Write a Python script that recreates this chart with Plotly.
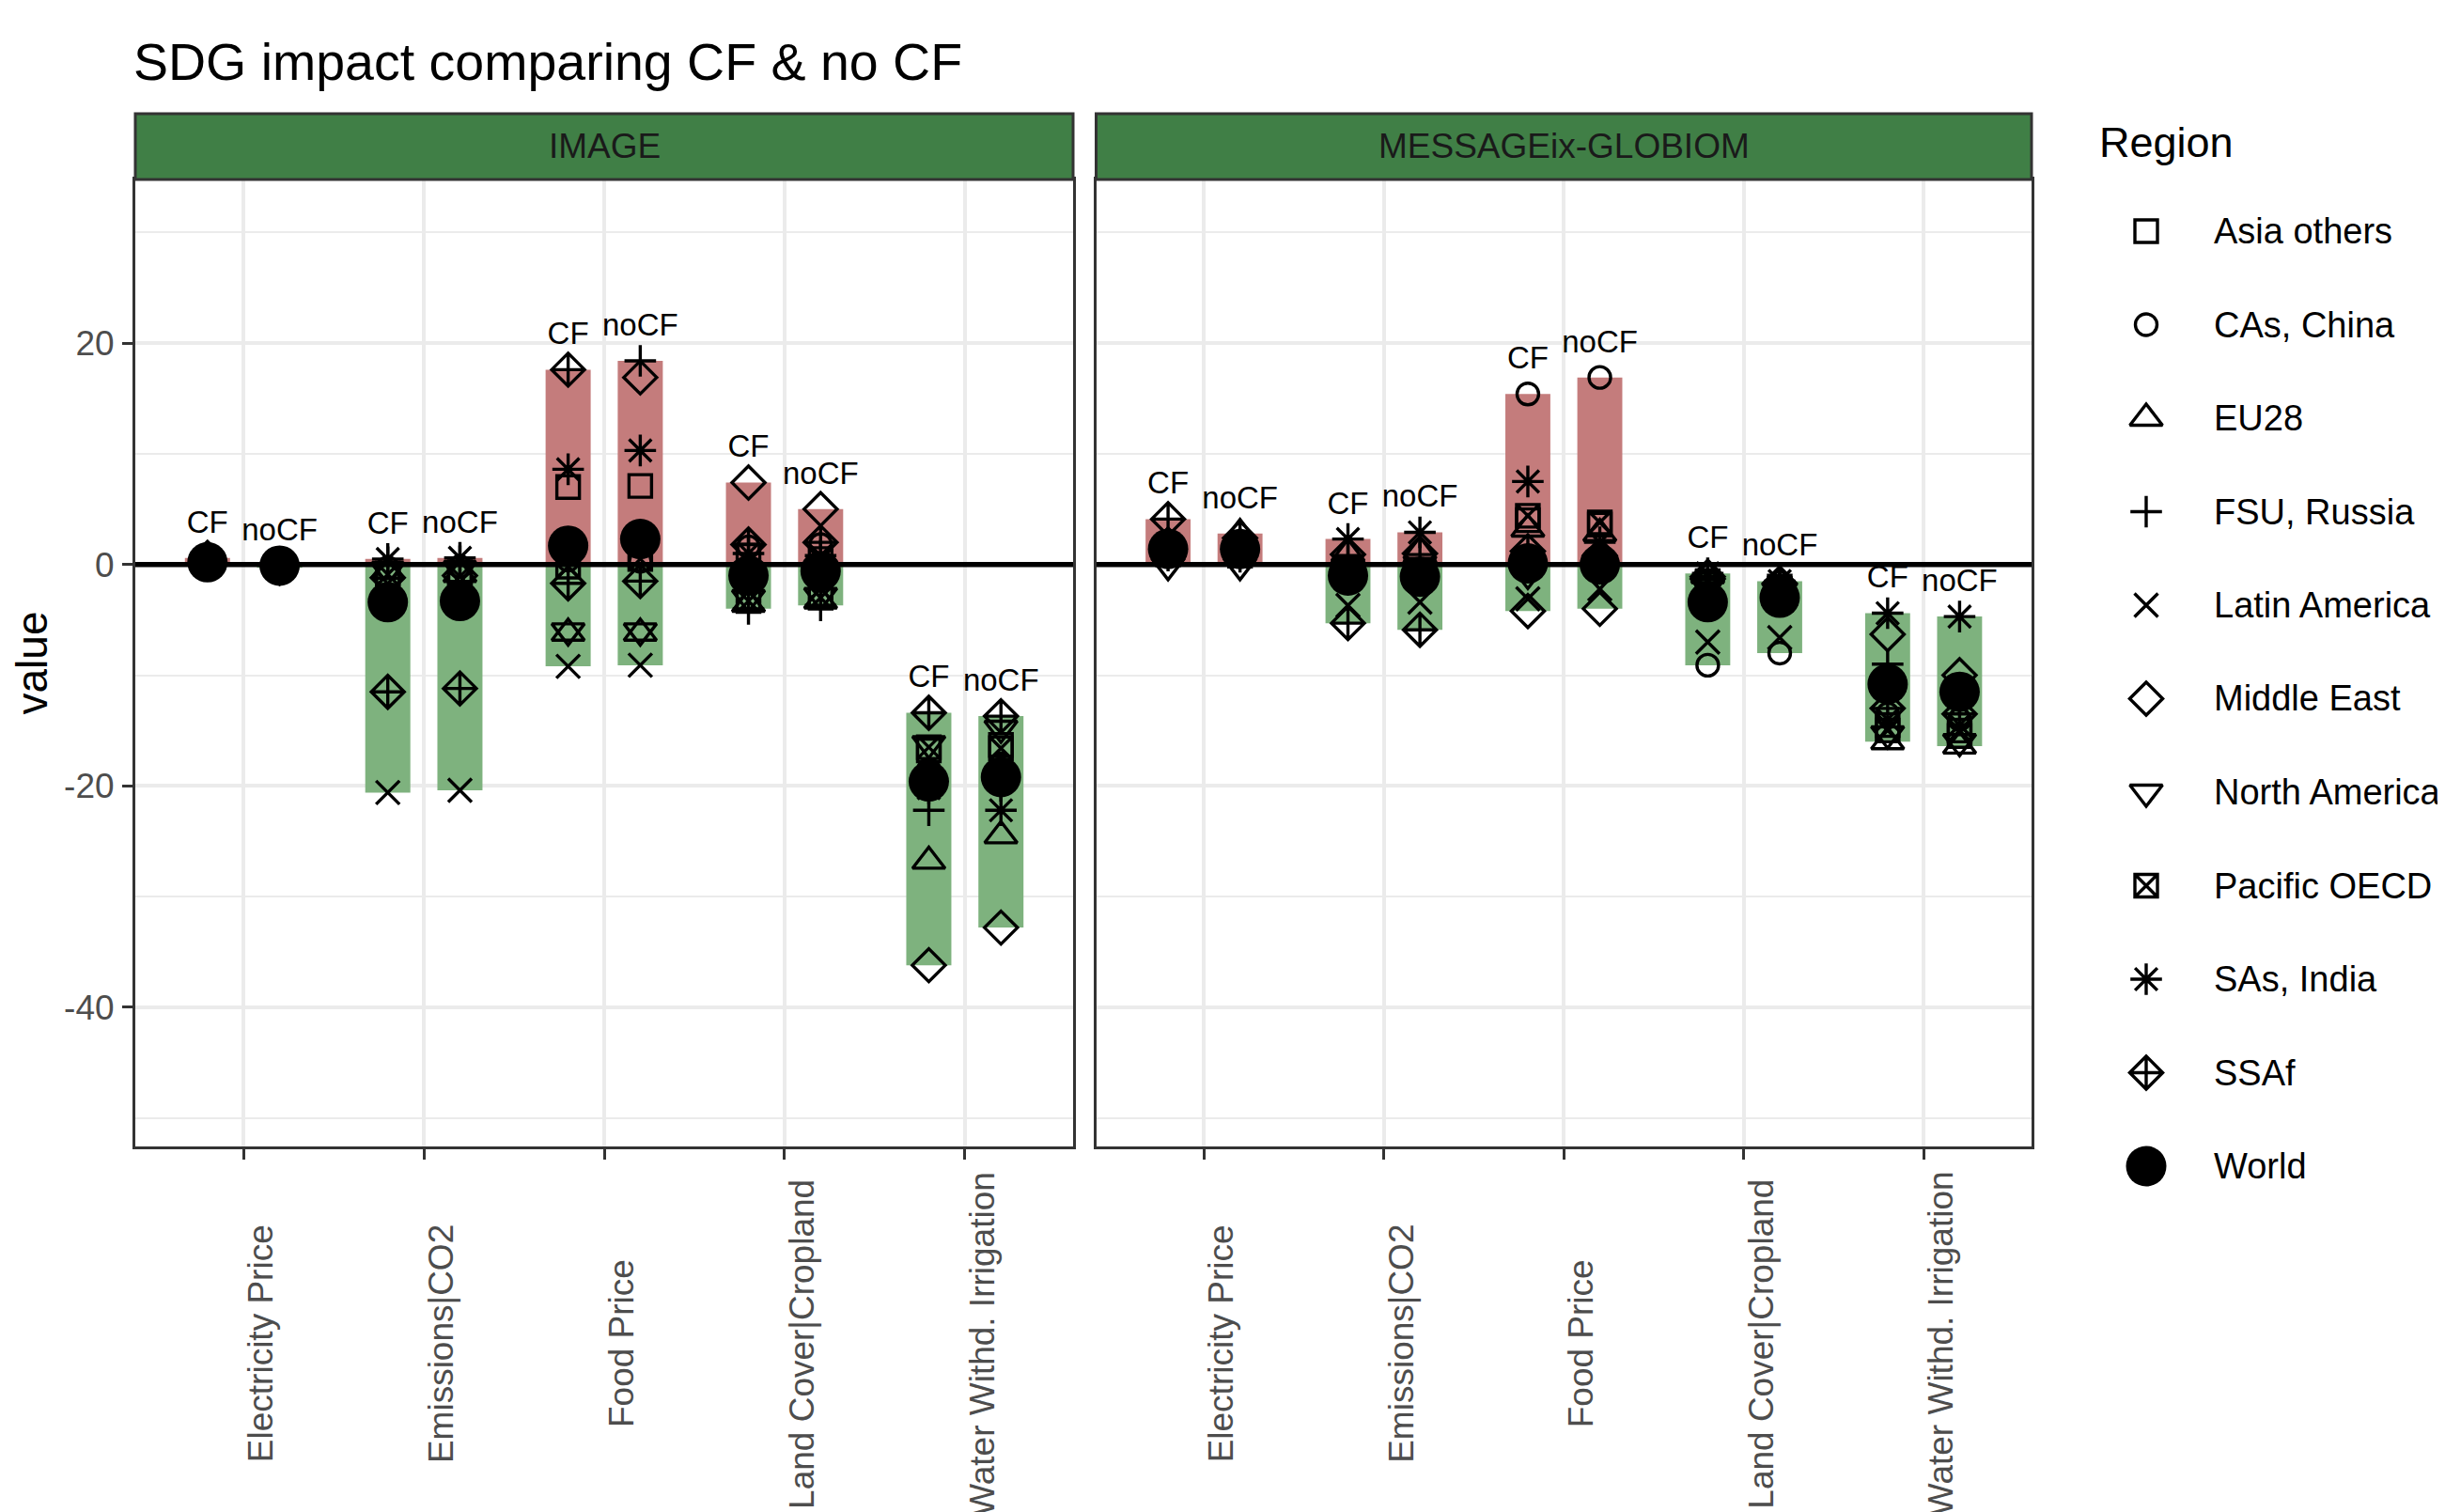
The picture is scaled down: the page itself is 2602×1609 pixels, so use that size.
import numpy as np
import plotly.graph_objects as go

# ---------------- data ----------------
REGIONS = ["Asia others", "CAs, China", "EU28", "FSU, Russia", "Latin America",
           "Middle East", "North America", "Pacific OECD", "SAs, India", "SSAf", "World"]
INDICATORS = ["Electricity Price", "Emissions|CO2", "Food Price",
              "Land Cover|Cropland", "Water Withd. Irrigation"]
MODELS = ["IMAGE", "MESSAGEix-GLOBIOM"]
SCENARIOS = ["CF", "noCF"]
Y_TICKS = [-40, -20, 0, 20]
Y_MINOR = [-50, -30, -10, 10, 30]

# rows = regions (order of REGIONS), columns = indicators (order of INDICATORS)
IMAGE_CF = [
    [0.3, -0.8, 7.0, 0.8, -16.8],
    [0.2, -0.3, 0.4, 1.6, -18.5],
    [0.4, -0.6, -6.2, -3.6, -26.8],
    [0.1, 0.2, 17.6, -4.0, -22.2],
    [0.3, -20.6, -9.2, -2.4, -19.8],
    [0.6, -1.2, 17.6, 7.4, -36.2],
    [0.2, -0.5, -6.0, -3.0, -16.2],
    [0.3, -0.9, -0.2, -3.3, -16.5],
    [0.5, 0.5, 8.6, 1.0, -20.2],
    [0.4, -11.5, -1.7, 1.8, -13.4],
    [0.2, -3.4, 1.7, -1.0, -19.6],
]
IMAGE_NOCF = [
    [-0.1, -0.7, 7.1, 0.5, -16.3],
    [-0.1, -0.2, 0.3, 1.8, -18.0],
    [-0.2, -0.9, -6.2, -3.3, -24.5],
    [-0.1, 0.3, 18.4, -3.7, -20.0],
    [-0.2, -20.4, -9.1, -2.2, -19.5],
    [-0.3, -1.0, 16.9, 5.0, -32.8],
    [-0.1, -0.4, -6.0, -2.8, -14.8],
    [-0.2, -1.1, 0.5, -3.0, -16.6],
    [-0.1, 0.6, 10.3, 0.8, -22.2],
    [-0.2, -11.2, -1.5, 2.0, -13.7],
    [-0.1, -3.3, 2.3, -0.6, -19.2],
]
MESSAGE_CF = [
    [1.0, -0.5, 4.0, -1.5, -14.5],
    [1.6, -1.5, 15.4, -9.1, -13.5],
    [2.0, 1.0, 3.2, -1.0, -16.0],
    [0.8, 0.8, 0.5, -1.2, -9.0],
    [1.2, -3.7, -3.1, -7.0, -14.0],
    [1.8, 0.9, -4.2, -1.3, -6.3],
    [-0.1, -0.3, -0.9, -2.0, -15.3],
    [0.9, -0.8, 4.4, -1.6, -15.0],
    [1.1, 2.3, 7.5, -0.8, -4.4],
    [4.1, -5.3, 1.2, -1.1, -13.0],
    [1.4, -1.0, 0.1, -3.4, -10.8],
]
MESSAGE_NOCF = [
    [1.0, -0.5, 3.6, -2.0, -15.5],
    [1.5, -1.6, 16.9, -8.0, -14.0],
    [2.8, 1.2, 2.8, -1.6, -16.4],
    [0.7, 0.9, 0.3, -1.9, -12.0],
    [1.1, -3.4, -2.2, -6.6, -14.5],
    [1.7, 1.0, -4.0, -1.8, -10.0],
    [-0.1, -0.3, -1.0, -2.5, -16.0],
    [0.8, -0.8, 3.8, -2.2, -15.0],
    [1.2, 2.9, 2.0, -1.5, -4.7],
    [2.4, -5.9, 0.8, -1.7, -13.5],
    [1.4, -1.1, 0.0, -3.0, -11.5],
]

# ---------------- styling ----------------
W, H = 2602, 1609          # target screenshot size
PAGE_OFF = 8               # default html body margin
FW, FH = W - PAGE_OFF, H - PAGE_OFF


def px(x):
    """screen x pixel -> paper fraction"""
    return (x - PAGE_OFF) / FW


def py(y):
    """screen y pixel (from top) -> paper fraction"""
    return 1 - (y - PAGE_OFF) / FH


FONT = "Liberation Sans, Arial, sans-serif"
RED = "#C47C7C"
GREEN = "#7EB27E"
STRIP = "#407F46"
BORDER = "#333333"
GRID = "#EBEBEB"
TICKTXT = "#4D4D4D"

SYMBOLS = ["square-open", "circle-open", "triangle-up-open", "cross-thin-open",
           "x-thin-open", "diamond-open", "triangle-down-open", "square-x-open",
           "asterisk-open", "diamond-cross-open", "circle"]
SIZES = [24, 23, 30, 24, 25, 27, 30, 24, 28, 27, 43]
STROKE = 3.4

OFFSET = {"CF": -0.2, "noCF": 0.2}
BAR_W = 0.25
LABEL_GAP = 3.0
X_RANGE = [0.4, 5.6]
Y_RANGE = [-52.57, 34.78]

PANEL_Y = [py(1220), py(191)]
STRIP_TOP = py(121)
panels = [
    dict(model=MODELS[0], xa="x", ya="y", dom=[px(144), px(1142)],
         data={"CF": IMAGE_CF, "noCF": IMAGE_NOCF}),
    dict(model=MODELS[1], xa="x2", ya="y2", dom=[px(1166.5), px(2162)],
         data={"CF": MESSAGE_CF, "noCF": MESSAGE_NOCF}),
]

cat_pos = np.arange(1, len(INDICATORS) + 1, dtype=float)

fig = go.Figure()
annotations = []
shapes = []

for p in panels:
    xa, ya = p["xa"], p["ya"]
    # range bars (red above 0, green below 0)
    for sc in SCENARIOS:
        vals = np.array(p["data"][sc], dtype=float)
        vmax = vals.max(axis=0)
        vmin = vals.min(axis=0)
        red_base = np.maximum(vmin, 0)
        red_h = np.where(vmax > 0, vmax - red_base, 0)
        green_top = np.minimum(vmax, 0)
        green_h = np.where(vmin < 0, green_top - vmin, 0)
        xs = cat_pos + OFFSET[sc]
        fig.add_trace(go.Bar(x=xs, y=red_h, base=red_base, width=BAR_W,
                             marker=dict(color=RED, line=dict(width=0)),
                             xaxis=xa, yaxis=ya, showlegend=False, hoverinfo="skip"))
        fig.add_trace(go.Bar(x=xs, y=green_h, base=vmin, width=BAR_W,
                             marker=dict(color=GREEN, line=dict(width=0)),
                             xaxis=xa, yaxis=ya, showlegend=False, hoverinfo="skip"))
    # zero reference line
    fig.add_trace(go.Scatter(x=X_RANGE, y=[0, 0], mode="lines",
                             line=dict(color="black", width=5.5),
                             xaxis=xa, yaxis=ya, showlegend=False, hoverinfo="skip"))
    # region markers
    for ri, reg in enumerate(REGIONS):
        xs = np.concatenate([cat_pos + OFFSET[sc] for sc in SCENARIOS])
        ys = np.concatenate([np.array(p["data"][sc], dtype=float)[ri] for sc in SCENARIOS])
        filled = SYMBOLS[ri] == "circle"
        fig.add_trace(go.Scatter(
            x=xs, y=ys, mode="markers", name=reg,
            marker=dict(symbol=SYMBOLS[ri], size=SIZES[ri], color="black",
                        line=dict(color="black", width=0 if filled else STROKE)),
            xaxis=xa, yaxis=ya, showlegend=False, cliponaxis=False))
    # CF / noCF labels
    for sc in SCENARIOS:
        vals = np.array(p["data"][sc], dtype=float)
        vmax = vals.max(axis=0)
        fig.add_trace(go.Scatter(
            x=cat_pos + OFFSET[sc], y=vmax + LABEL_GAP, mode="text",
            text=[sc] * len(INDICATORS), textposition="middle center",
            textfont=dict(family=FONT, size=33, color="black"),
            xaxis=xa, yaxis=ya, showlegend=False, hoverinfo="skip", cliponaxis=False))

    # strip
    shapes.append(dict(type="rect", xref="paper", yref="paper",
                       x0=p["dom"][0], x1=p["dom"][1], y0=PANEL_Y[1], y1=STRIP_TOP,
                       fillcolor=STRIP, line=dict(color=BORDER, width=3), layer="above"))
    annotations.append(dict(text=p["model"], xref="paper", yref="paper",
                            x=(p["dom"][0] + p["dom"][1]) / 2, y=(PANEL_Y[1] + STRIP_TOP) / 2,
                            xanchor="center", yanchor="middle", showarrow=False,
                            font=dict(family=FONT, size=37, color="#1A1A1A")))
    # x tick labels (rotated)
    for ci, ind in enumerate(INDICATORS):
        annotations.append(dict(text=ind, xref=xa, yref="paper", x=cat_pos[ci], y=py(1430),
                                xanchor="center", yanchor="middle", textangle=-90, xshift=18,
                                showarrow=False, font=dict(family=FONT, size=37, color=TICKTXT)))

# ---------------- manual legend ----------------
LEG_MARKER_X = 2284
LEG_TEXT_X = 2354
LEG_Y0 = 246
LEG_DY = 99.5
leg_y = LEG_Y0 + LEG_DY * np.arange(len(REGIONS))
LEG_LEFT = 2180
for ri, reg in enumerate(REGIONS):
    filled = SYMBOLS[ri] == "circle"
    fig.add_trace(go.Scatter(
        x=[LEG_MARKER_X], y=[leg_y[ri]], mode="markers",
        marker=dict(symbol=SYMBOLS[ri], size=SIZES[ri], color="black",
                    line=dict(color="black", width=0 if filled else STROKE)),
        xaxis="x3", yaxis="y3", showlegend=False, hoverinfo="skip", cliponaxis=False))
    annotations.append(dict(text=reg, xref="paper", yref="paper", x=px(LEG_TEXT_X), y=py(leg_y[ri]),
                            xanchor="left", yanchor="middle", showarrow=False,
                            font=dict(family=FONT, size=38, color="black")))
annotations.append(dict(text="Region", xref="paper", yref="paper", x=px(2232), y=py(152),
                        xanchor="left", yanchor="middle", showarrow=False,
                        font=dict(family=FONT, size=45, color="black")))

# title and axis title
annotations.append(dict(text="SDG impact comparing CF & no CF", xref="paper", yref="paper",
                        x=px(140), y=py(66), xanchor="left", yanchor="middle",
                        showarrow=False, font=dict(family=FONT, size=55.5, color="black")))
annotations.append(dict(text="value", xref="paper", yref="paper", x=px(33),
                        y=(PANEL_Y[0] + PANEL_Y[1]) / 2, xanchor="center", yanchor="middle",
                        textangle=-90, showarrow=False,
                        font=dict(family=FONT, size=46, color="black")))

xaxis_common = dict(range=X_RANGE, tickvals=list(cat_pos), showticklabels=False,
                    ticks="outside", ticklen=11, tickwidth=3, tickcolor=BORDER,
                    showgrid=True, gridcolor=GRID, gridwidth=4, zeroline=False,
                    showline=True, mirror=True, linecolor=BORDER, linewidth=3)
yaxis_common = dict(range=Y_RANGE, tickvals=Y_TICKS, zeroline=False,
                    showgrid=True, gridcolor=GRID, gridwidth=4,
                    minor=dict(tickvals=Y_MINOR, showgrid=True, gridcolor=GRID, gridwidth=2),
                    showline=True, mirror=True, linecolor=BORDER, linewidth=3,
                    domain=PANEL_Y)

fig.update_layout(
    width=FW, height=FH, autosize=False,
    margin=dict(l=0, r=0, t=0, b=0, pad=0),
    paper_bgcolor="white", plot_bgcolor="rgba(0,0,0,0)",
    barmode="overlay", showlegend=False,
    font=dict(family=FONT, color="black"),
    xaxis=dict(domain=panels[0]["dom"], anchor="y", **xaxis_common),
    xaxis2=dict(domain=panels[1]["dom"], anchor="y2", **xaxis_common),
    yaxis=dict(anchor="x", ticks="outside", ticklen=11, tickwidth=3, tickcolor=BORDER,
               ticktext=[str(v) for v in Y_TICKS], ticklabelstandoff=1,
               tickfont=dict(family=FONT, size=37, color=TICKTXT), **yaxis_common),
    yaxis2=dict(anchor="x2", matches="y", showticklabels=False, ticks="", **yaxis_common),
    xaxis3=dict(domain=[px(LEG_LEFT), 1], range=[LEG_LEFT, W], visible=False,
                anchor="y3", fixedrange=True),
    yaxis3=dict(domain=[0, 1], range=[H, PAGE_OFF], visible=False, anchor="x3", fixedrange=True),
    annotations=annotations,
    shapes=shapes,
)

fig.write_html("out.html")
